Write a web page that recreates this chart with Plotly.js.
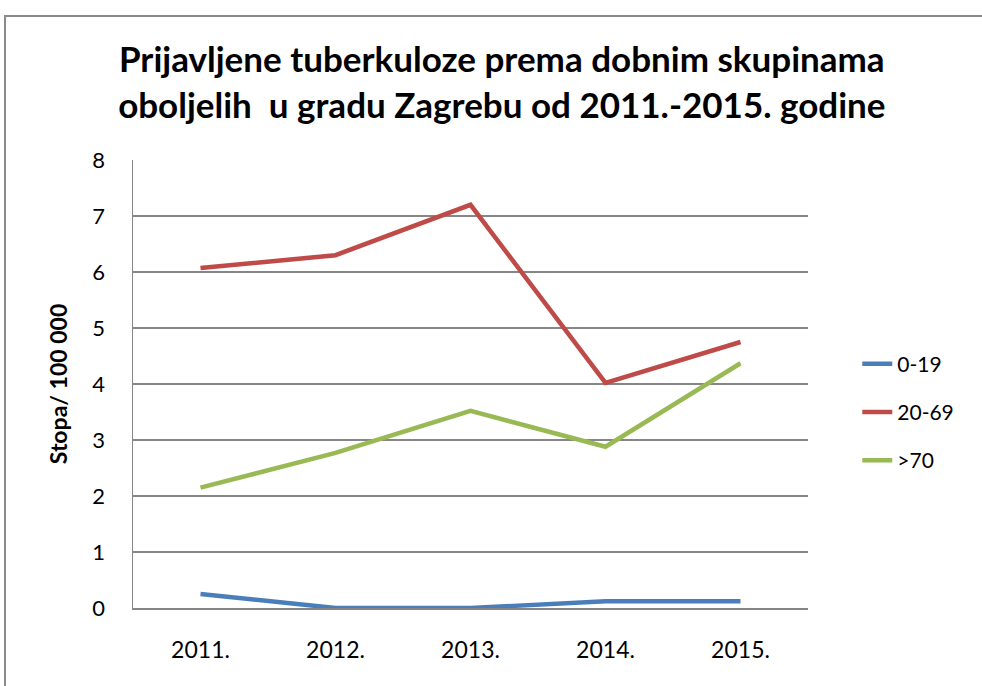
<!DOCTYPE html>
<html><head><meta charset="utf-8">
<script src="https://cdn.plot.ly/plotly-3.0.1.min.js"></script>
<style>
body{margin:0;background:#fff;}
#wrap{position:relative;width:982px;height:686px;}
#frame{position:absolute;left:4px;top:15px;right:-10px;bottom:-10px;border-left:2px solid #8a8a8a;border-top:2px solid #8a8a8a;pointer-events:none;z-index:5;}
#chart{position:absolute;left:0;top:0;width:982px;height:686px;}
</style></head>
<body><div id="wrap"><div id="chart"></div><div id="frame"></div></div>
<script>
var years = ["2011.", "2012.", "2013.", "2014.", "2015."];
var seriesNames = ["0-19", "20-69", ">70"];
var age0_19 = [0.25, 0.0, 0.0, 0.12, 0.12];
var age20_69 = [6.07, 6.30, 7.20, 4.02, 4.75];
var age70plus = [2.15, 2.77, 3.52, 2.88, 4.37];
var colors = ["#4A7EBB", "#BE4B48", "#98B954"];
var values = [age0_19, age20_69, age70plus];

var font = "Lato, 'Open Sans', Arial, sans-serif";
var traces = values.map(function(v, i){
  return {x: years, y: v, name: seriesNames[i], type: "scatter", mode: "lines",
    legendgroup: "g"+i,
    line: {color: colors[i], width: 4.5}};
});
var layout = {
  width: 982, height: 686,
  margin: {l: 133, r: 174, t: 160, b: 78},
  paper_bgcolor: "#fff", plot_bgcolor: "#fff",
  title: {text: "Prijavljene tuberkuloze prema dobnim skupinama<br>oboljelih\u00a0 u gradu Zagrebu od 2011.-2015. godine",
    font: {family: font, size: 35, color: "#000", weight: "bold"},
    xref: "container", x: 0.511, xanchor: "center",
    yref: "container", y: 1 - 72/686, yanchor: "top"},
  xaxis: {type: "category", range: [-0.5, 4.5], showgrid: false, zeroline: false,
    showline: true, linecolor: "#868686", linewidth: 1.5,
    tickfont: {family: font, size: 23, color: "#000"}, ticks: "", ticklabelstandoff: 21},
  yaxis: {range: [0, 8], dtick: 1, showgrid: true, gridcolor: "#868686", gridwidth: 1.5,
    zeroline: false, showline: true, linecolor: "#868686", linewidth: 1.5,
    tickfont: {family: font, size: 22, color: "#000"}, ticks: "", ticklabelstandoff: 22,
    title: {text: "Stopa/ 100 000", font: {family: font, size: 23, color: "#000", weight: "bold"}, standoff: 18}},
  legend: {x: 1.073, xanchor: "left", y: 0.4375, yanchor: "middle",
    font: {family: font, size: 21, color: "#000"}, tracegroupgap: 18,
    bgcolor: "rgba(0,0,0,0)"},
  showlegend: true
};
Plotly.newPlot("chart", traces, layout, {displayModeBar: false, staticPlot: true});
</script></body></html>
